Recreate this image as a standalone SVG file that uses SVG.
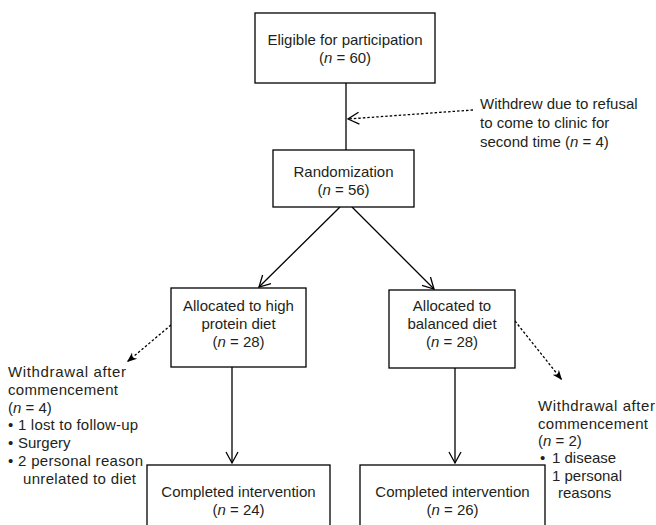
<svg xmlns="http://www.w3.org/2000/svg" width="656" height="525" viewBox="0 0 656 525">
<defs>
<style>
.box{fill:#fff;stroke:#000;stroke-width:1.3}
.t{font-family:"Liberation Sans",Arial,sans-serif;font-size:15px;fill:#231f20}
.c{text-anchor:middle}
.ln{stroke:#000;stroke-width:1.3;fill:none}
.dl{stroke:#000;stroke-width:1.3;fill:none;stroke-dasharray:2.5 2}
</style>
<marker id="open" markerWidth="14" markerHeight="14" refX="12" refY="7" orient="auto" markerUnits="userSpaceOnUse">
<path d="M1,1 L12,7 L1,13" fill="none" stroke="#000" stroke-width="1.3"/>
</marker>
<marker id="fill" markerWidth="12" markerHeight="10" refX="10" refY="5" orient="auto" markerUnits="userSpaceOnUse">
<path d="M0,1 L10,5 L0,9 L3,5 Z" fill="#000"/>
</marker>
</defs>
<rect width="656" height="525" fill="#fff"/>
<g id="connectors">
<line class="ln" x1="346" y1="83" x2="346" y2="150"/>
<line class="dl" x1="473" y1="110" x2="348" y2="119" marker-end="url(#open)"/>
<line class="ln" x1="340" y1="207" x2="259" y2="287" marker-end="url(#open)"/>
<line class="ln" x1="352" y1="207" x2="434" y2="289" marker-end="url(#open)"/>
<line class="dl" x1="171" y1="325" x2="127" y2="362" marker-end="url(#fill)"/>
<line class="dl" x1="515" y1="321" x2="562" y2="380" marker-end="url(#fill)"/>
<line class="ln" x1="232" y1="367" x2="232" y2="463" marker-end="url(#open)"/>
<line class="ln" x1="455" y1="368" x2="455" y2="463" marker-end="url(#open)"/>
</g>
<g id="eligible">
<rect class="box" x="255" y="13" width="180" height="70"/>
<text class="t c" x="345" y="45">Eligible for participation</text>
<text class="t c" x="345" y="63">(<tspan font-style="italic">n</tspan> = 60)</text>
</g>
<g id="withdrew">
<text class="t" x="480" y="109">Withdrew due to refusal</text>
<text class="t" x="480" y="128">to come to clinic for</text>
<text class="t" x="480" y="147">second time (<tspan font-style="italic">n</tspan> = 4)</text>
</g>
<g id="randomization">
<rect class="box" x="273" y="150" width="141" height="57"/>
<text class="t c" x="343.5" y="177">Randomization</text>
<text class="t c" x="343.5" y="195">(<tspan font-style="italic">n</tspan> = 56)</text>
</g>
<g id="high-protein">
<rect class="box" x="171" y="288" width="135" height="79"/>
<text class="t c" x="238.5" y="311">Allocated to high</text>
<text class="t c" x="238.5" y="329">protein diet</text>
<text class="t c" x="238.5" y="347">(<tspan font-style="italic">n</tspan> = 28)</text>
</g>
<g id="balanced">
<rect class="box" x="389" y="290" width="126" height="78"/>
<text class="t c" x="452" y="311">Allocated to</text>
<text class="t c" x="452" y="329">balanced diet</text>
<text class="t c" x="452" y="347">(<tspan font-style="italic">n</tspan> = 28)</text>
</g>
<g id="withdrawal-left">
<text class="t" x="8" y="377" textLength="118" lengthAdjust="spacing">Withdrawal after</text>
<text class="t" x="8" y="395" textLength="110" lengthAdjust="spacing">commencement</text>
<text class="t" x="8" y="413">(<tspan font-style="italic">n</tspan> = 4)</text>
<text class="t" x="8" y="430">•</text><text class="t" x="18" y="430" textLength="120" lengthAdjust="spacing">1 lost to follow-up</text>
<text class="t" x="8" y="448">•</text><text class="t" x="18" y="448">Surgery</text>
<text class="t" x="8" y="466">•</text><text class="t" x="18" y="466" textLength="125" lengthAdjust="spacing">2 personal reason</text>
<text class="t" x="23" y="484" textLength="113" lengthAdjust="spacing">unrelated to diet</text>
</g>
<g id="withdrawal-right">
<text class="t" x="538" y="411" textLength="117" lengthAdjust="spacing">Withdrawal after</text>
<text class="t" x="538" y="429" textLength="110" lengthAdjust="spacing">commencement</text>
<text class="t" x="538" y="446">(<tspan font-style="italic">n</tspan> = 2)</text>
<text class="t" x="540" y="463">•</text><text class="t" x="552" y="463">1 disease</text>
<text class="t" x="540" y="481">•</text><text class="t" x="552" y="481">1 personal</text>
<text class="t" x="558" y="498">reasons</text>
</g>
<g id="completed-left">
<rect class="box" x="147" y="465" width="183" height="70"/>
<text class="t c" x="238.5" y="497">Completed intervention</text>
<text class="t c" x="238.5" y="515">(<tspan font-style="italic">n</tspan> = 24)</text>
</g>
<g id="completed-right">
<rect class="box" x="360" y="465" width="185" height="70"/>
<text class="t c" x="452.5" y="497">Completed intervention</text>
<text class="t c" x="452.5" y="515">(<tspan font-style="italic">n</tspan> = 26)</text>
</g>
</svg>
